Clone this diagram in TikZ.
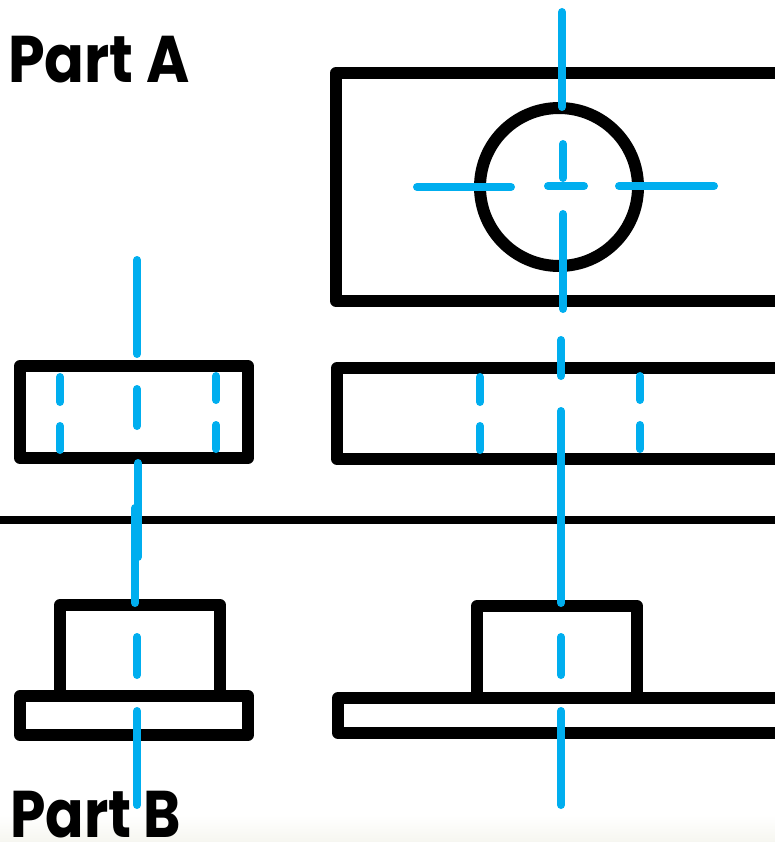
\documentclass[tikz,border=0pt]{standalone}
\usepackage{fontspec}
\usepackage{tikz}
\usetikzlibrary{calc}
\setmainfont{Poppins}
\definecolor{axisblue}{RGB}{0,174,239}
\definecolor{paperedge}{RGB}{246,246,240}
\tikzset{
	outline/.style={draw=black,line width=12pt,line join=round},
	centerline/.style={draw=axisblue,line width=8pt,line cap=round},
	partlabel/.style={anchor=base west,inner sep=0pt,font=\bfseries\fontsize{66}{70}\selectfont}
}
\begin{document}
\begin{tikzpicture}[x=1pt,y=-1pt]
	\def \wid {775}
	\def \hei {842}
	\def \off {800}
	\useasboundingbox (0,0) rectangle (\wid,\hei);
	
	%paper fade at the bottom
	\shade[top color=white,bottom color=paperedge] (0,815) rectangle (\wid,\hei);
	
	%part A top view
	\draw[outline] (\off,73) -- (336,73) -- (336,301) -- (\off,301);
	\draw[outline] (559,187) circle (79);
	
	%part A side views
	\draw[outline] (20,366) rectangle (248,458);
	\draw[outline] (\off,368) -- (337,368) -- (337,459) -- (\off,459);
	
	%split line
	\draw[black,line width=8pt] (0,520) -- (\wid,520);
	
	%part B left view
	\draw[outline] (60,696) -- (60,605) -- (220,605) -- (220,696);
	\draw[outline] (20,696) rectangle (248,735);
	
	%part B right view
	\draw[outline] (477,698) -- (477,606) -- (637,606) -- (637,698);
	\draw[outline] (\off,698) -- (338,698) -- (338,733) -- (\off,733);
	
	%left center lines
	\draw[centerline] (137,260) -- (137,354);
	\draw[centerline] (137,389) -- (137,426);
	\draw[centerline] (138,463) -- (138,557);
	\draw[centerline] (135,508) -- (135,603);
	\draw[centerline] (137,637) -- (137,675);
	\draw[centerline] (137,711) -- (137,805);
	
	%left hole lines
	\draw[centerline] (60,377) -- (60,402);
	\draw[centerline] (60,426) -- (60,450);
	\draw[centerline] (216,376) -- (216,400);
	\draw[centerline] (216,425) -- (216,449);
	
	%right center lines
	\draw[centerline] (562,12) -- (562,107);
	\draw[centerline] (563,144) -- (563,178);
	\draw[centerline] (563,214) -- (563,309);
	\draw[centerline] (561,340) -- (561,376);
	\draw[centerline] (561,411) -- (561,603);
	\draw[centerline] (561,637) -- (561,675);
	\draw[centerline] (561,711) -- (561,805);
	
	%circle cross lines
	\draw[centerline] (417,187) -- (511,187);
	\draw[centerline] (548,186) -- (584,186);
	\draw[centerline] (619,186) -- (714,186);
	
	%right hole lines
	\draw[centerline] (480,377) -- (480,402);
	\draw[centerline] (480,426) -- (480,450);
	\draw[centerline] (640,376) -- (640,400);
	\draw[centerline] (640,425) -- (640,449);
	
	%labels
	\node[partlabel] (partA) at (8,83) {\scalebox{0.89}[1]{Part A}};
	\node[partlabel] (partB) at (10,837) {\scalebox{0.86}[1]{Part B}};
\end{tikzpicture}
\end{document}
